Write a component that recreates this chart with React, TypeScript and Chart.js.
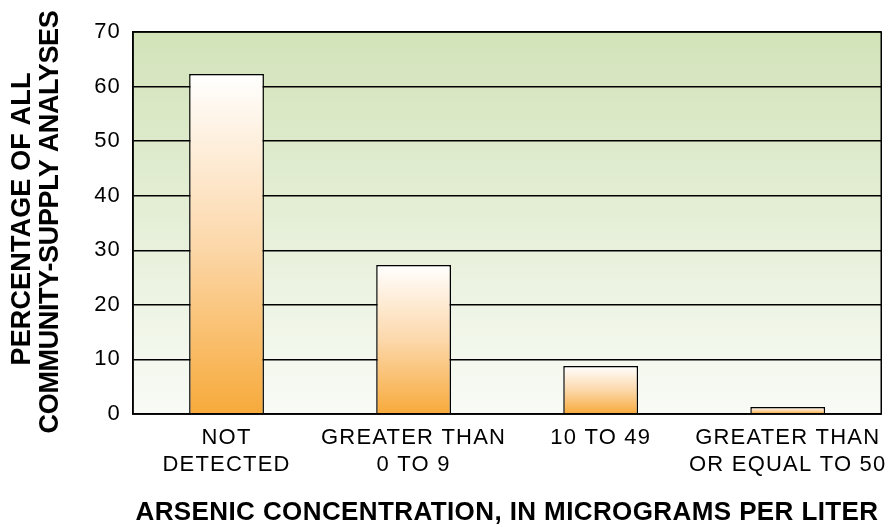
import React, { useEffect, useRef } from "react";
import { Chart, registerables } from "chart.js";

Chart.register(...registerables);

const categories: string[][] = [
  ["NOT", "DETECTED"],
  ["GREATER THAN", "0 TO 9"],
  ["10 TO 49"],
  ["GREATER THAN", "OR EQUAL TO 50"],
];
const percentages: number[] = [62.3, 27.3, 8.8, 1.3];
const yTicks: number[] = [0, 10, 20, 30, 40, 50, 60, 70];
const xTitle = "ARSENIC CONCENTRATION, IN MICROGRAMS PER LITER";
const yTitleLines: string[] = ["PERCENTAGE OF ALL", "COMMUNITY-SUPPLY ANALYSES"];

const FONT = "'Liberation Sans', Arial, sans-serif";

export default function App() {
  const ref = useRef<HTMLCanvasElement | null>(null);
  useEffect(() => {
    document.body.style.margin = "0";
    const canvas = ref.current!;
    const bgPlugin = {
      id: "bg",
      beforeDraw(chart: any) {
        const { ctx, chartArea: a } = chart;
        ctx.letterSpacing = "1.2px";
        const g = ctx.createLinearGradient(0, a.top, 0, a.bottom);
        g.addColorStop(0, "#d2e3b9");
        g.addColorStop(1, "#f9fbf6");
        ctx.save();
        ctx.fillStyle = g;
        ctx.fillRect(a.left, a.top, a.right - a.left, a.bottom - a.top);
        ctx.restore();
      },
      afterDraw(chart: any) {
        const { ctx, chartArea: a } = chart;
        ctx.save();
        ctx.strokeStyle = "#000";
        ctx.lineWidth = 1.5;
        ctx.strokeRect(a.left, a.top, a.right - a.left, a.bottom - a.top);
        ctx.fillStyle = "#000";
        ctx.font = `bold 26px ${FONT}`;
        ctx.letterSpacing = "0.4px";
        ctx.textAlign = "center";
        ctx.textBaseline = "middle";
        ctx.fillText(xTitle, 507, 513);
        ctx.rotate(-Math.PI / 2);
        ctx.font = `bold 27px ${FONT}`;
        ctx.letterSpacing = "0.15px";
        ctx.fillText(yTitleLines[0], -219, 23);
        ctx.letterSpacing = "-0.35px";
        ctx.fillText(yTitleLines[1], -222, 51);
        ctx.restore();
      },
    };
    const chart = new Chart(canvas, {
      type: "bar",
      data: {
        labels: categories,
        datasets: [
          {
            data: percentages,
            backgroundColor: (c: any) => {
              const ch = c.chart;
              if (!ch.chartArea || !ch.scales.y) return "#fcd3a0";
              const y = ch.scales.y;
              const top = y.getPixelForValue(c.raw);
              const bot = y.getPixelForValue(0);
              const g = ch.ctx.createLinearGradient(0, top, 0, bot);
              g.addColorStop(0, "#ffffff");
              g.addColorStop(0.5, "#fcd8ab");
              g.addColorStop(1, "#f7aa3b");
              return g;
            },
            borderColor: "#000",
            borderWidth: 1.5,
            borderSkipped: "bottom",
            categoryPercentage: 0.8,
            barPercentage: 0.5,
          },
        ],
      },
      options: {
        animation: false,
        responsive: false,
        layout: { padding: { top: 32, right: 8, left: 0, bottom: 0 } },
        plugins: { legend: { display: false }, tooltip: { enabled: false } },
        scales: {
          x: {
            grid: { display: false, drawTicks: false },
            border: { display: true, color: "#000", width: 1.5 },
            ticks: {
              color: "#000",
              font: { family: FONT, size: 22, lineHeight: 1.22 },
              padding: 11,
              maxRotation: 0,
              autoSkip: false,
            },
            afterFit(s: any) {
              s.height = 113;
            },
          },
          y: {
            min: 0,
            max: 70,
            afterBuildTicks(s: any) {
              s.ticks = yTicks.map((v) => ({ value: v }));
            },
            grid: { color: "#000", lineWidth: 1.4, drawTicks: false },
            border: { display: true, color: "#000", width: 1.5 },
            ticks: {
              color: "#000",
              font: { family: FONT, size: 22 },
              padding: 12,
            },
            afterFit(s: any) {
              s.width = 133;
            },
          },
        },
      },
      plugins: [bgPlugin],
    });
    return () => chart.destroy();
  }, []);
  return <canvas ref={ref} width={890} height={527} style={{ display: "block" }} />;
}
